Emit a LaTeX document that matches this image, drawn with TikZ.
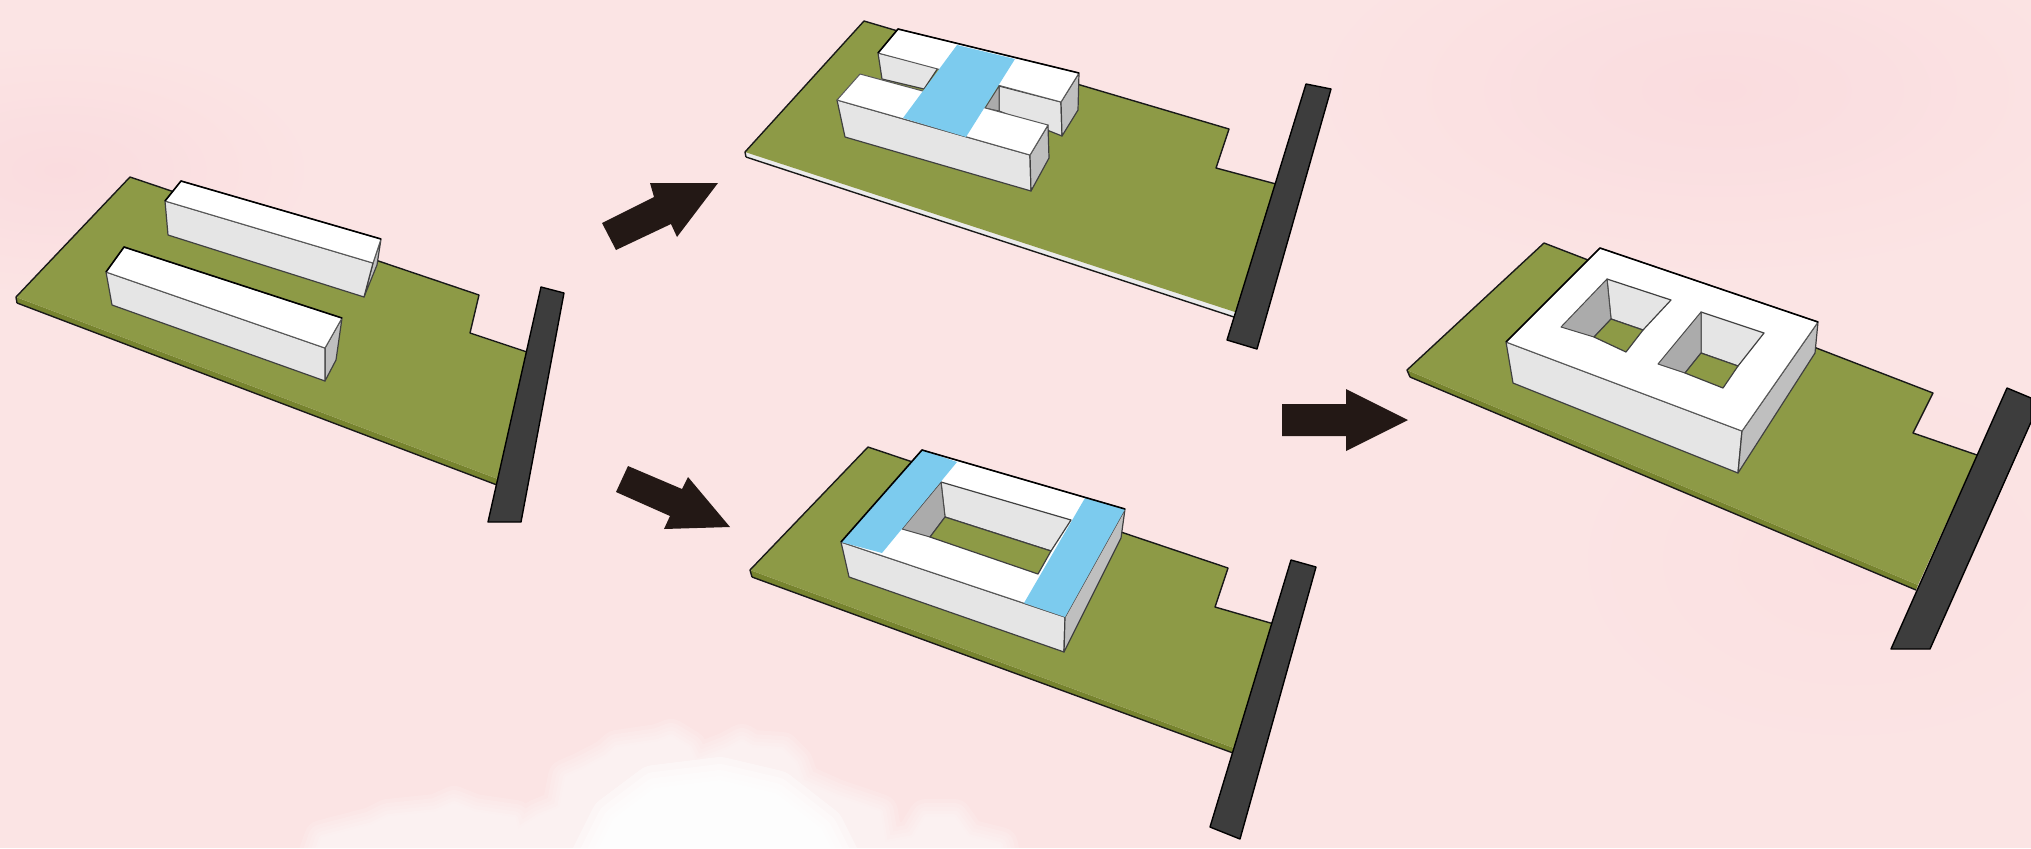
\documentclass[tikz,border=0pt]{standalone}
\usetikzlibrary{calc}

\definecolor{skypink}{HTML}{FBE4E4}
\definecolor{skypatch}{HTML}{FADCDF}
\definecolor{siteolive}{HTML}{8D9A46}
\definecolor{siteedge}{HTML}{77842F}
\definecolor{roadgrey}{HTML}{3D3D3D}
\definecolor{waterblue}{HTML}{7CCBEE}
\definecolor{arrowblack}{HTML}{231815}

\begin{document}
\begin{tikzpicture}[
    x=0.5pt, y=-0.5pt,
    site/.style={fill=siteolive},
    siteside/.style={fill=siteedge},
    siteline/.style={draw=black!90, line width=0.7pt, line join=round},
    road/.style={fill=roadgrey, draw=black, line width=0.7pt, line join=round},
    topface/.style={fill=white, draw=black!65, line width=0.5pt, line join=round},
    frontface/.style={fill=black!10, draw=black!75, line width=0.6pt, line join=round},
    sideface/.style={fill=black!25, draw=black!75, line width=0.6pt, line join=round},
    darkface/.style={fill=black!33, draw=black!70, line width=0.5pt, line join=round},
    floorface/.style={fill=siteolive, draw=black!75, line width=0.6pt, line join=round},
    backedge/.style={draw=black, line width=0.8pt, line join=round},
    bluepart/.style={fill=waterblue},
    bigarrow/.style={fill=arrowblack},
]
\useasboundingbox (0,0) rectangle (2031,848);
\clip (0,0) rectangle (2031,848);

% ====== Background ======
\fill[skypink] (0,0) rectangle (2031,848);
\shade[inner color=skypatch, outer color=skypink] (1720,90) ellipse (420 and 190);
\shade[inner color=skypatch, outer color=skypink] (60,170) ellipse (260 and 130);
\shade[inner color=skypatch!50!skypink, outer color=skypink] (1850,560) ellipse (300 and 200);

% ====== Cloud ======
\foreach \w in {36,28,20,13,6,1}{
    \begin{scope}[transparency group, opacity=0.13]
    \draw[white, line width=\w*0.5pt, line join=round, fill=white]
        (311,870) -- (322,838) -- (372,825) -- (388,817) -- (436,812) -- (454,804) -- (474,812)
        -- (515,818) -- (518,830) -- (538,817) -- (560,808) -- (566,777) -- (582,770) -- (607,757)
        -- (617,748) -- (658,742) -- (671,737) -- (689,748) -- (696,762) -- (727,750) -- (742,742)
        -- (752,748) -- (782,750) -- (795,763) -- (802,782) -- (836,797) -- (880,812) -- (885,843)
        -- (913,838) -- (926,817) -- (954,817) -- (968,837) -- (1000,845) -- (1005,870) -- cycle;
    \end{scope}
}
\foreach \w in {50,36,24,12,4}{
    \begin{scope}[transparency group, opacity=0.4]
    \draw[white, line width=\w*0.5pt, line join=round, fill=white]
        (590,870) -- (615,820) -- (655,790) -- (720,782) -- (775,795) -- (820,830) -- (840,870) -- cycle;
    \end{scope}
}

% ====== Site 1, two slabs ======
\fill[siteside] (16,297) -- (498,479) -- (497,485) -- (17,303) -- cycle;
\fill[site] (16,297) -- (130,177) -- (479,295) -- (470,333) -- (527,352) -- (498,479) -- cycle;
\draw[siteline] (17,303) -- (16,297) -- (130,177) -- (479,295) -- (470,333) -- (527,352);
\draw[siteline] (17,303) -- (497,485);
\filldraw[road] (541,287) -- (564,293) -- (521,522) -- (488,522) -- cycle;

\filldraw[sideface] (381,239) -- (373,263) -- (364,297) -- (377,265) -- cycle;
\filldraw[frontface] (165,201) -- (373,263) -- (364,297) -- (168,235) -- cycle;
\filldraw[topface] (181,181) -- (381,239) -- (373,263) -- (165,201) -- cycle;
\draw[backedge] (165,201) -- (181,181) -- (381,239);

\filldraw[sideface] (342,318) -- (325,348) -- (325,381) -- (336,360) -- cycle;
\filldraw[frontface] (106,272) -- (325,348) -- (325,381) -- (112,305) -- cycle;
\filldraw[topface] (124,247) -- (342,318) -- (325,348) -- (106,272) -- cycle;
\draw[backedge] (106,272) -- (124,247) -- (342,318);

% ====== Site 2, H block ======
\fill[black!8] (745,152) -- (1235,312) -- (1234,317) -- (746,157) -- cycle;
\fill[site] (745,152) -- (864,21) -- (1229,129) -- (1216,168) -- (1276,184) -- (1235,312) -- cycle;
\draw[siteline] (746,157) -- (745,152) -- (864,21) -- (1229,129) -- (1216,168) -- (1276,184);
\draw[siteline] (746,157) -- (1234,317);
\filldraw[road] (1306,84) -- (1331,89) -- (1257,349) -- (1227,340) -- cycle;

\filldraw[frontface] (878,53) -- (938,68) -- (924,89) -- (882,79) -- cycle;
\filldraw[frontface] (999,86) -- (1061,102) -- (1062,136) -- (999,111) -- cycle;
\filldraw[darkface] (999,86) -- (985,108) -- (999,111) -- cycle;
\filldraw[sideface] (1061,102) -- (1079,73) -- (1078,110) -- (1062,136) -- cycle;
\filldraw[topface] (898,29) -- (1079,73) -- (1061,102) -- (878,53) -- cycle;
\draw[backedge] (878,53) -- (898,29) -- (1079,73);

\filldraw[frontface] (837,100) -- (1030,155) -- (1031,191) -- (845,137) -- cycle;
\filldraw[sideface] (1030,155) -- (1048,125) -- (1049,158) -- (1031,191) -- cycle;
\filldraw[topface] (860,74) -- (1048,125) -- (1030,155) -- (837,100) -- cycle;
\fill[bluepart] (957,45) -- (1015,59) -- (966,137) -- (903,118) -- cycle;

% ====== Site 3, ring block ======
\fill[siteside] (750,570) -- (1234,748) -- (1233,753) -- (752,577) -- cycle;
\fill[site] (750,570) -- (868,447) -- (1228,568) -- (1215,607) -- (1274,624) -- (1234,748) -- cycle;
\draw[siteline] (752,577) -- (750,570) -- (868,447) -- (1228,568) -- (1215,607) -- (1274,624);
\draw[siteline] (752,577) -- (1233,753);
\filldraw[road] (1291,560) -- (1316,567) -- (1240,839) -- (1210,827) -- cycle;

\filldraw[frontface] (841,542) -- (1065,617) -- (1064,652) -- (849,577) -- cycle;
\filldraw[sideface] (1125,509) -- (1121,538) -- (1064,652) -- (1065,617) -- cycle;
\filldraw[topface] (922,450) -- (1125,509) -- (1065,617) -- (841,542) -- cycle;
\filldraw[frontface] (941,482) -- (1071,520) -- (1051,551) -- (945,517) -- cycle;
\filldraw[darkface] (941,482) -- (945,517) -- (930,537) -- (902,529) -- cycle;
\filldraw[floorface] (945,517) -- (1051,551) -- (1038,574) -- (930,537) -- cycle;
\fill[bluepart] (922,450) -- (957,462) -- (882,553) -- (841,542) -- cycle;
\fill[bluepart] (1085,498) -- (1125,509) -- (1065,617) -- (1024,603) -- cycle;
\draw[backedge] (841,542) -- (922,450) -- (1125,509);

% ====== Site 4, block with two courts ======
\fill[siteside] (1407,370) -- (1918,585) -- (1916,590) -- (1410,377) -- cycle;
\fill[site] (1407,370) -- (1544,243) -- (1933,393) -- (1913,433) -- (1977,455) -- (1918,585) -- cycle;
\draw[siteline] (1410,377) -- (1407,370) -- (1544,243) -- (1933,393) -- (1913,433) -- (1977,455);
\draw[siteline] (1410,377) -- (1916,590);
\filldraw[road] (2007,388) -- (2031,398) -- (2031,422) -- (1930,649) -- (1891,649) -- cycle;

\filldraw[frontface] (1506,342) -- (1742,431) -- (1738,473) -- (1513,383) -- cycle;
\filldraw[sideface] (1818,322) -- (1815,353) -- (1738,473) -- (1742,431) -- cycle;
\filldraw[topface] (1600,248) -- (1818,322) -- (1742,431) -- (1506,342) -- cycle;
\draw[backedge] (1506,342) -- (1600,248) -- (1818,322);

\filldraw[frontface] (1607,279) -- (1671,300) -- (1643,330) -- (1611,319) -- cycle;
\filldraw[darkface] (1607,279) -- (1611,319) -- (1594,337) -- (1561,327) -- cycle;
\filldraw[floorface] (1611,319) -- (1643,330) -- (1626,352) -- (1594,337) -- cycle;

\filldraw[frontface] (1701,312) -- (1764,333) -- (1738,366) -- (1701,353) -- cycle;
\filldraw[darkface] (1701,312) -- (1701,353) -- (1685,373) -- (1658,364) -- cycle;
\filldraw[floorface] (1701,353) -- (1738,366) -- (1723,388) -- (1685,373) -- cycle;

% ====== Arrows ======
\fill[bigarrow] (602,223) -- (654,197) -- (650,183) -- (718,183) -- (677,237) -- (671,224) -- (616,250) -- cycle;
\fill[bigarrow] (628,466) -- (682,489) -- (688,477) -- (730,527) -- (664,529) -- (670,516) -- (616,492) -- cycle;
\fill[bigarrow] (1282,404) -- (1346,404) -- (1346,389) -- (1408,420) -- (1346,451) -- (1346,436) -- (1282,436) -- cycle;

\end{tikzpicture}
\end{document}
